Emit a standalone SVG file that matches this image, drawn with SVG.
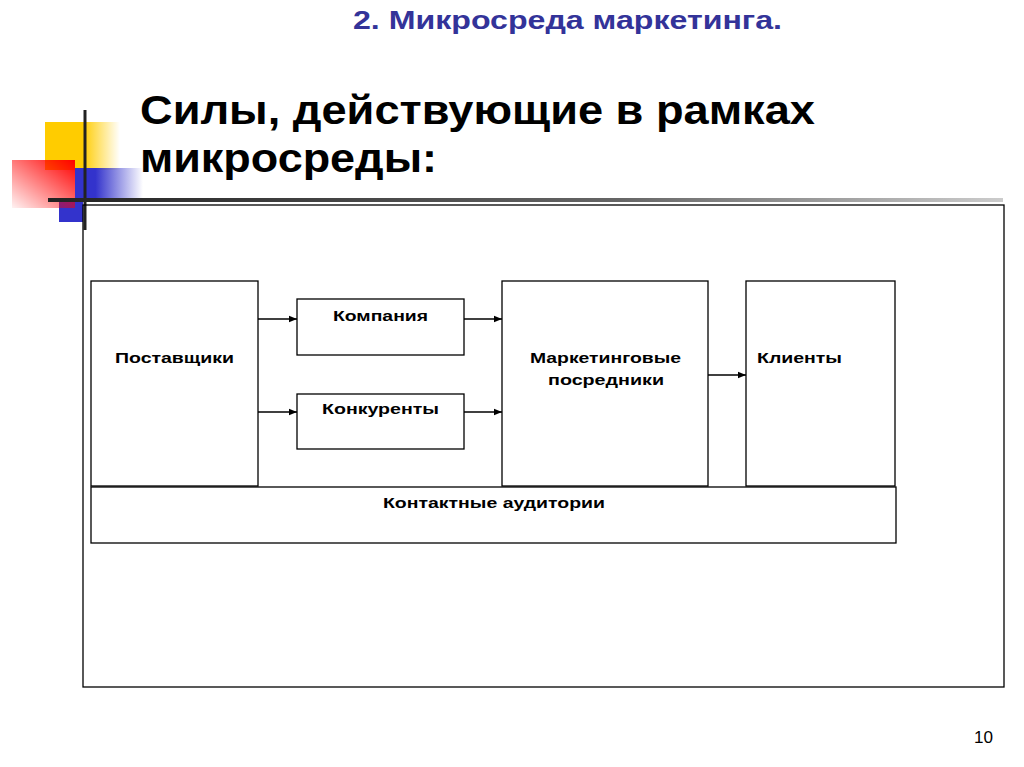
<svg xmlns="http://www.w3.org/2000/svg" width="1024" height="767" viewBox="0 0 1024 767">
<defs>
<linearGradient id="gy" x1="0" x2="1"><stop offset="0.5" stop-color="#ffcc00"/><stop offset="1" stop-color="#ffcc00" stop-opacity="0"/></linearGradient>
<linearGradient id="gr" x1="1" y1="0" x2="0" y2="1"><stop offset="0" stop-color="#ff0000"/><stop offset="1" stop-color="#ff0000" stop-opacity="0.05"/></linearGradient>
<linearGradient id="gb" x1="0" x2="1"><stop offset="0.3" stop-color="#3333cc"/><stop offset="1" stop-color="#3333cc" stop-opacity="0"/></linearGradient>
<linearGradient id="gl" x1="0" x2="1"><stop offset="0" stop-color="#222"/><stop offset="0.6" stop-color="#666"/><stop offset="1" stop-color="#ccc"/></linearGradient>
<marker id="ah" viewBox="0 0 10 10" refX="10" refY="5" markerWidth="8" markerHeight="8" markerUnits="userSpaceOnUse" orient="auto"><path d="M0,1 L10,5 L0,9 z" fill="#000"/></marker>
</defs>
<style>
.b{fill:#fff;stroke:#000;stroke-width:1.3}
.t{font-family:"Liberation Sans",Arial,sans-serif;font-weight:bold;font-size:15px;fill:#000}
.c line{stroke:#000;stroke-width:1.3;marker-end:url(#ah)}
</style>
<rect width="1024" height="767" fill="#fff"/>
<g id="decor">
<rect x="45" y="122" width="75" height="48" fill="url(#gy)"/>
<rect x="75" y="168" width="68" height="33" fill="url(#gb)"/>
<rect x="59" y="200" width="24" height="22" fill="#3333cc"/>
<rect x="12" y="160" width="63" height="48" fill="url(#gr)"/>
<line x1="85" y1="110" x2="85" y2="230" stroke="#222" stroke-width="3"/>
<rect x="48" y="198" width="955" height="4" fill="url(#gl)"/>
</g>
<text x="353" y="29" font-family="Liberation Sans,Arial,sans-serif" font-weight="bold" font-size="25" fill="#333399" textLength="429" lengthAdjust="spacingAndGlyphs">2. Микросреда маркетинга.</text>
<text font-family="Liberation Sans,Arial,sans-serif" font-weight="bold" font-size="40" fill="#000" lengthAdjust="spacingAndGlyphs"><tspan x="140" y="124" textLength="675" lengthAdjust="spacingAndGlyphs">Силы, действующие в рамках</tspan><tspan x="140" y="172" textLength="297" lengthAdjust="spacingAndGlyphs">микросреды:</tspan></text>
<rect id="frame" x="83" y="205" width="921" height="482" fill="none" stroke="#000" stroke-width="1.3"/>
<g id="n1"><rect class="b" x="91" y="281" width="167" height="205"/><text class="t" x="115" y="363" textLength="119" lengthAdjust="spacingAndGlyphs">Поставщики</text></g>
<g id="n2"><rect class="b" x="297" y="299" width="167" height="56"/><text class="t" x="333" y="321" textLength="95" lengthAdjust="spacingAndGlyphs">Компания</text></g>
<g id="n3"><rect class="b" x="297" y="394" width="167" height="55"/><text class="t" x="322" y="414" textLength="117" lengthAdjust="spacingAndGlyphs">Конкуренты</text></g>
<g id="n4"><rect class="b" x="502" y="281" width="206" height="205"/><text class="t" x="530" y="363" textLength="151" lengthAdjust="spacingAndGlyphs">Маркетинговые</text><text class="t" x="548" y="385" textLength="116" lengthAdjust="spacingAndGlyphs">посредники</text></g>
<g id="n5"><rect class="b" x="746" y="281" width="149" height="205"/><text class="t" x="757" y="363" textLength="85" lengthAdjust="spacingAndGlyphs">Клиенты</text></g>
<g id="n6"><rect class="b" x="91" y="487" width="805" height="56"/><text class="t" x="383" y="508" textLength="222" lengthAdjust="spacingAndGlyphs">Контактные аудитории</text></g>
<g class="c" id="connectors">
<line x1="258" y1="319" x2="297" y2="319"/>
<line x1="258" y1="412" x2="297" y2="412"/>
<line x1="464" y1="319" x2="502" y2="319"/>
<line x1="464" y1="412" x2="502" y2="412"/>
<line x1="708" y1="375" x2="746" y2="375"/>
</g>
<text x="974" y="743" font-family="Liberation Sans,Arial,sans-serif" font-size="17" fill="#000" textLength="19" lengthAdjust="spacingAndGlyphs">10</text>
</svg>
